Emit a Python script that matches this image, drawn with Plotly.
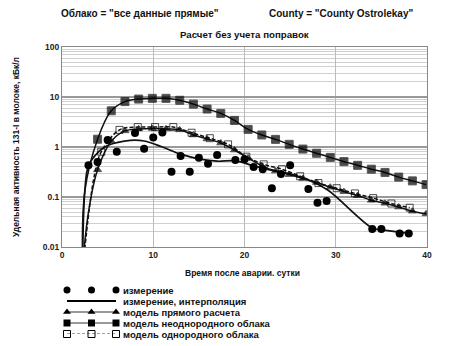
import plotly.graph_objects as go

# ---------------- data ----------------
meas_x = [2.9, 3.9, 5.0, 6.0, 8.0, 9.0, 10.0, 11.0, 12.0, 13.0, 14.0, 15.0, 16.0, 17.0,
          19.0, 20.0, 21.0, 22.0, 23.0, 24.0, 25.0, 27.0, 28.0, 29.0, 34.0, 35.0, 37.0, 38.0]
meas_y = [0.43, 0.5, 1.38, 0.8, 1.9, 0.92, 1.55, 1.95, 0.32, 0.66, 0.32, 0.61, 0.46, 0.69,
          0.55, 0.57, 0.4, 0.36, 0.15, 0.29, 0.43, 0.145, 0.077, 0.083, 0.023, 0.023, 0.0187, 0.0187]

interp_x = [2.25, 2.5, 2.9, 4.0, 4.9, 6.0, 7.5, 9.0, 11.0, 13.0, 15.0, 17.0, 19.0, 21.0,
            23.0, 25.0, 27.5, 29.2, 34.0, 35.0, 38.0]
interp_y = [0.004, 0.13, 0.42, 0.8, 1.05, 1.22, 1.36, 1.32, 1.0, 0.72, 0.58, 0.52, 0.53, 0.42,
            0.34, 0.29, 0.2, 0.135, 0.024, 0.022, 0.019]

# model of direct calculation (triangles)
direct_head_x = [2.25, 2.9]
direct_head_y = [0.004, 0.05]
direct_x = [3.9, 5.4, 6.9, 8.4, 9.9, 11.4, 12.9, 14.4, 15.9, 17.4, 18.9, 20.4, 21.9, 23.4,
            24.9, 26.4, 27.9, 29.4, 30.9, 32.4, 33.9, 35.4, 36.9, 38.4, 39.9]
direct_y = [0.35, 1.3, 2.1, 2.3, 2.35, 2.3, 2.2, 1.74, 1.45, 1.2, 0.87, 0.6, 0.42, 0.33,
            0.28, 0.235, 0.195, 0.157, 0.128, 0.107, 0.086, 0.075, 0.063, 0.052, 0.046]

# model of heterogeneous cloud (filled squares)
hetero_head_x = [2.25, 2.5]
hetero_head_y = [0.004, 0.13]
hetero_x = [3.9, 5.4, 6.9, 8.4, 9.9, 11.4, 12.9, 14.4, 15.9, 17.4, 18.9, 20.4, 21.9, 23.4,
            24.9, 26.4, 27.9, 29.4, 30.9, 32.4, 33.9, 35.4, 36.9, 38.4, 39.9]
hetero_y = [1.43, 5.3, 8.1, 9.1, 9.4, 9.4, 8.6, 7.2, 5.75, 4.7, 3.4, 2.25, 1.74, 1.42,
            1.13, 0.91, 0.75, 0.62, 0.51, 0.43, 0.36, 0.31, 0.25, 0.21, 0.177]

# model of homogeneous cloud (open squares)
homo_head_x = [2.3, 3.0, 3.6]
homo_head_y = [0.004, 0.06, 0.3]
homo_x = [4.3, 6.3, 8.3, 10.2, 12.2, 14.2, 16.2, 18.2, 20.2, 22.1, 24.1, 26.1, 28.1,
          30.1, 32.1, 34.1, 36.1, 38.1]
homo_y = [0.8, 2.2, 2.5, 2.5, 2.5, 1.93, 1.5, 1.13, 0.64, 0.45, 0.36, 0.26, 0.19,
          0.15, 0.118, 0.095, 0.074, 0.061]

y_tickvals = [0.01, 0.1, 1, 10, 100]
y_ticktext = ["0.01", "0.1", "1", "10", "100"]
x_tickvals = [0, 10, 20, 30, 40]

legend_labels = ["измерение", "измерение, интерполяция", "модель прямого расчета",
                 "модель неоднородного облака", "модель однородного облака"]

top_left_text = 'Облако = "все данные прямые"'
top_right_text = 'County = "County Ostrolekay"'
title_text = "Расчет без учета поправок"
x_title = "Время после аварии. сутки"
y_title = "Удельная активность 131-I в молоке, кБк/л"

# ---------------- figure ----------------
OFF = 8                      # page body margin of the html page
W, H = 454 - OFF, 346 - OFF
FONT = "Liberation Sans, Arial, sans-serif"
LINE = "#111111"


def px_x(p):
    return (p - OFF) / W


def px_y(p):
    return 1 - (p - OFF) / H


def bold(t):
    return f"<b>{t}</b>"


fig = go.Figure()

# interpolation line
fig.add_trace(go.Scatter(x=interp_x, y=interp_y, mode="lines",
                         line=dict(color=LINE, width=1.7, shape="spline", smoothing=1),
                         showlegend=False))

# heterogeneous cloud
fig.add_trace(go.Scatter(x=hetero_head_x + hetero_x, y=hetero_head_y + hetero_y,
                         mode="lines+markers",
                         line=dict(color=LINE, width=1.5, shape="spline", smoothing=1),
                         marker=dict(symbol="square", color="black",
                                     size=[0] * len(hetero_head_x) + [8] * len(hetero_x)),
                         showlegend=False))

# direct calculation
fig.add_trace(go.Scatter(x=direct_head_x + direct_x, y=direct_head_y + direct_y,
                         mode="lines+markers",
                         line=dict(color=LINE, width=1.5, shape="spline", smoothing=1),
                         marker=dict(symbol="triangle-up", color="black",
                                     size=[0] * len(direct_head_x) + [7] * len(direct_x)),
                         showlegend=False))

# homogeneous cloud
fig.add_trace(go.Scatter(x=homo_head_x + homo_x, y=homo_head_y + homo_y,
                         mode="lines+markers",
                         line=dict(color=LINE, width=1.5, dash="4px,2px", shape="spline", smoothing=1),
                         marker=dict(symbol="square-open", color="black", line=dict(width=1),
                                     size=[0] * len(homo_head_x) + [7] * len(homo_x)),
                         showlegend=False))

# measurements
fig.add_trace(go.Scatter(x=meas_x, y=meas_y, mode="markers",
                         marker=dict(symbol="circle", color="black", size=8),
                         showlegend=False))

# ---------------- custom legend (drawn on a helper axis) ----------------
sample_x = [0, 1, 2]
leg_styles = [
    dict(mode="markers", marker=dict(symbol="circle", color="black", size=7)),
    dict(mode="lines", line=dict(color="black", width=2)),
    dict(mode="lines+markers", line=dict(color="#777", width=1.5),
         marker=dict(symbol="triangle-up", color="black", size=7)),
    dict(mode="lines+markers", line=dict(color="#777", width=1.5),
         marker=dict(symbol="square", color="black", size=7)),
    dict(mode="lines+markers", line=dict(color="#444", width=1.2, dash="3px,2px"),
         marker=dict(symbol="square-open", color="black", size=7, line=dict(width=1))),
]
for i, (lab, st) in enumerate(zip(legend_labels, leg_styles)):
    fig.add_trace(go.Scatter(x=sample_x, y=[i] * 3, xaxis="x2", yaxis="y2",
                             showlegend=False, cliponaxis=False, hoverinfo="skip", **st))
    fig.add_annotation(x=2, y=i, xref="x2", yref="y2", text=bold(lab), showarrow=False,
                       xanchor="left", yanchor="middle", xshift=5,
                       font=dict(family=FONT, size=9.5, color="#111"))

# gridline emphasis at decades
fig.add_hline(y=10, line=dict(color="black", width=1.3), layer="below")
fig.add_hline(y=1, line=dict(color="#888", width=2.2), layer="below")


def paper_text(text, x, y, size, angle=0):
    fig.add_annotation(x=px_x(x), y=px_y(y), xref="paper", yref="paper", text=bold(text),
                       showarrow=False, xanchor="center", yanchor="middle", textangle=angle,
                       font=dict(family=FONT, size=size, color="#111"))


# top texts, title and axis titles
paper_text(top_left_text, 140, 14, 10)
paper_text(top_right_text, 341, 14, 10)
paper_text(title_text, 244.5, 35, 9.7)
paper_text(x_title, 243, 273, 8.5)
paper_text(y_title, 16, 147, 8.5, angle=-90)

tickfont = dict(family=FONT, size=8.5, color="#222")

fig.update_layout(
    width=W, height=H,
    margin=dict(l=0, r=0, t=0, b=0, autoexpand=False),
    paper_bgcolor="white", plot_bgcolor="white",
    font=dict(family=FONT, color="#111"),
    xaxis=dict(domain=[px_x(62), px_x(427)], range=[0, 40], tickvals=x_tickvals,
               ticktext=[bold(v) for v in x_tickvals],
               showgrid=True, gridcolor="#bbb", gridwidth=1, zeroline=False,
               showline=True, linecolor="#888", linewidth=1, mirror=True,
               ticks="", tickfont=tickfont, anchor="y", automargin=False),
    yaxis=dict(domain=[px_y(247), px_y(47)], type="log", range=[-2, 2],
               tickvals=y_tickvals, ticktext=[bold(t) for t in y_ticktext],
               showgrid=True, gridcolor="#999", gridwidth=1.5, zeroline=False,
               minor=dict(dtick="D1", showgrid=True, gridcolor="#d0d0d0", gridwidth=1, ticks=""),
               showline=True, linecolor="#888", linewidth=1, mirror=True,
               ticks="", tickfont=tickfont, anchor="x", automargin=False),
    xaxis2=dict(domain=[px_x(67), px_x(116)], range=[0, 2], visible=False, anchor="y2",
                automargin=False),
    yaxis2=dict(domain=[px_y(334), px_y(290)], range=[4, 0], visible=False, anchor="x2",
                automargin=False),
)

fig.write_html("out.html")
